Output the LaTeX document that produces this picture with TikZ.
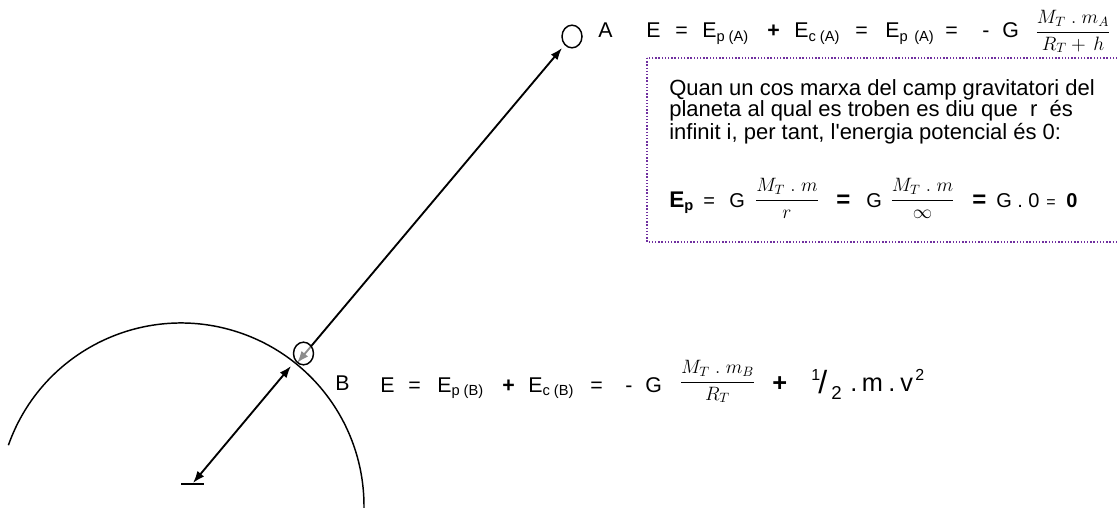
\RequirePackage{fix-cm}
\documentclass[tikz,border=0pt]{standalone}
\usepackage{fontspec}
\setmainfont{Liberation Sans}
\usetikzlibrary{arrows.meta,shapes.geometric}
\definecolor{boxpurple}{RGB}{112,48,160}
\newcommand{\lowsub}[1]{\raisebox{-2.3pt}{\fontsize{11}{12}\selectfont #1}}
\newcommand{\dfr}[2]{\displaystyle\frac{#1}{#2}}
\newcommand{\mdot}{\;.\;}
\begin{document}
\begin{tikzpicture}[x=0.75pt,y=-0.75pt,
  txt/.style={font=\fontsize{16}{19}\selectfont, inner sep=0pt, anchor=base west},
  bigtxt/.style={font=\fontsize{19}{22}\selectfont, inner sep=0pt, anchor=base west},
  boxtxt/.style={font=\fontsize{16.5}{19}\selectfont, inner sep=0pt, anchor=base west},
  eqb/.style={font=\fontsize{15}{18}\selectfont, inner sep=0pt, anchor=base west},
  fr/.style={font=\fontsize{14.5}{17}\selectfont, inner sep=0pt, anchor=base},
  conn/.style={line width=1.4pt, {Latex[length=9pt,width=6.5pt]}-{Latex[length=9pt,width=6.5pt]}},
  ptcircle/.style={draw, ellipse, line width=1.1pt, minimum width=15pt, minimum height=17pt, inner sep=0pt},
  ]
\useasboundingbox (0,0) rectangle (1117,510);
% planet surface
\draw[line width=1.1pt] (181,506) ++(199.4:183) arc[start angle=199.4, end angle=360.6, radius=183];
% centre mark
\coordinate (cm1) at (181,484);
\coordinate (cm2) at (204,484);
\draw[line width=1.4pt] (cm1) -- (cm2);
% radius arrow
\coordinate (ctr) at (193,483);
\coordinate (surf) at (291,366);
\draw[conn] (ctr) -- (surf);
% A--B arrow
\coordinate (tipB) at (297,363);
\coordinate (tipA) at (562,48);
\draw[conn] (tipB) -- (tipA);
% points
\node[ptcircle] (cA) at (572,36.5) {};
\node[ptcircle, fill=white, fill opacity=0.55] (cB) at (303.5,353.5) {};
% labels
\node[txt] (lA) at (598,38) {A};
\node[txt] (lB) at (335,390) {B};
% equation at A
\node[txt] (a1) at (646,38) {E};
\node[txt] (a2) at (675,38) {=};
\node[txt] (a3) at (702,38) {E\lowsub{p (A)}};
\node[txt] (a4) at (767,38) {\textbf{+}};
\node[txt] (a5) at (794,38) {E\lowsub{c (A)}};
\node[txt] (a6) at (855,38) {=};
\node[txt] (a7) at (885,38) {E\lowsub{p\hspace{5pt}(A)}};
\node[txt] (a8) at (945,38) {=};
\node[txt] (a9) at (982,38) {-};
\node[txt] (a10) at (1002,38) {G};
\node[fr] (a11) at (1073,36.8) {$\dfr{M_T\mdot m_A}{R_T +\, h}$};
% dotted box
\draw[boxpurple, line width=1.1pt, dash pattern=on 1.1pt off 1.3pt] (647,58) rectangle (1119,242);
\node[boxtxt] (t1) at (669,95) {Quan un cos marxa del camp gravitatori del};
\node[boxtxt] (t2) at (669,117) {planeta al qual es troben es diu que~~r~~és};
\node[boxtxt] (t3) at (669,139) {infinit i, per tant, l\textquotesingle energia potencial és 0:};
\node[eqb, font=\fontsize{17}{20}\selectfont] (b1) at (669,207) {\textbf{E\lowsub{p}}};
\node[eqb] (b2) at (703,207) {=};
\node[eqb] (b3) at (729,207) {G};
\node[fr] (b4) at (787,204.8) {$\dfr{M_T\mdot m}{r}$};
\node[eqb, font=\fontsize{18}{20}\selectfont] (b5) at (836,207) {\textbf{=}};
\node[eqb] (b6) at (866,207) {G};
\node[fr] (b7) at (922.5,204.8) {$\dfr{M_T\mdot m}{\infty}$};
\node[eqb, font=\fontsize{18}{20}\selectfont] (b8) at (972,207) {\textbf{=}};
\node[eqb] (b9) at (996,207) {G . 0};
\node[eqb, font=\fontsize{12}{14}\selectfont] (b10) at (1046,207) {=};
\node[eqb] (b11) at (1066,207) {\textbf{0}};
% equation at B
\node[txt] (c1) at (380,392) {E};
\node[txt] (c2) at (408,392) {=};
\node[txt] (c3) at (437,392) {E\lowsub{p (B)}};
\node[txt] (c4) at (502,392) {\textbf{+}};
\node[txt] (c5) at (528,392) {E\lowsub{c (B)}};
\node[txt] (c6) at (590,392) {=};
\node[txt] (c7) at (625,392) {-};
\node[txt] (c8) at (645,392) {G};
\node[fr] (c9) at (717.5,386.8) {$\dfr{M_T\mdot m_B}{R_T}$};
\node[bigtxt] (c10) at (772,391) {\textbf{+}};
\node[bigtxt, font=\fontsize{12}{14}\selectfont] (c11) at (811,380) {1};
\node[bigtxt, font=\fontsize{24}{26}\selectfont] (c12) at (818,393) {/};
\node[bigtxt, font=\fontsize{14}{16}\selectfont] (c13) at (831,399) {2};
\node[bigtxt] (c14) at (850,391) {.};
\node[bigtxt] (c15) at (861.5,391) {m};
\node[bigtxt] (c16) at (888,391) {.};
\node[bigtxt] (c17) at (900,391) {v};
\node[bigtxt, font=\fontsize{12}{14}\selectfont] (c18) at (915,380) {2};
\end{tikzpicture}
\end{document}
